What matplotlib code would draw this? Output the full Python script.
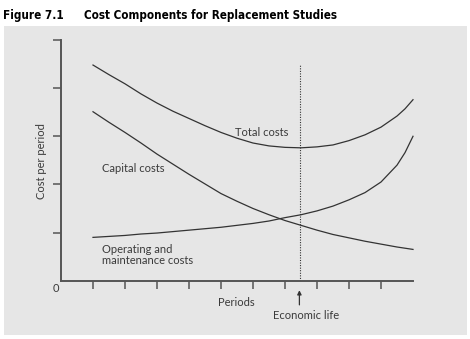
import matplotlib
matplotlib.use("Agg")
import matplotlib.pyplot as plt
from matplotlib.patches import Rectangle

# period axis shared by all three curves
periods = [1.0, 1.5, 2.0, 2.5, 3.0, 3.5, 4.0, 4.5, 5.0, 5.5, 6.0,
           6.5, 7.0, 7.5, 8.0, 8.5, 9.0, 9.5, 10.0, 10.5, 10.75, 11.0]

total_costs = [4.48, 4.28, 4.09, 3.88, 3.69, 3.52, 3.37, 3.22, 3.08, 2.96, 2.86,
               2.80, 2.77, 2.76, 2.78, 2.82, 2.91, 3.03, 3.19, 3.42, 3.57, 3.76]
capital_costs = [3.51, 3.29, 3.08, 2.86, 2.63, 2.42, 2.21, 2.01, 1.81, 1.65, 1.50,
                 1.37, 1.25, 1.15, 1.05, 0.96, 0.89, 0.82, 0.76, 0.70, 0.675, 0.65]
operating_costs = [0.90, 0.92, 0.94, 0.97, 0.99, 1.02, 1.05, 1.08, 1.11, 1.15, 1.19,
                   1.24, 1.31, 1.37, 1.45, 1.55, 1.68, 1.83, 2.05, 2.40, 2.66, 3.00]

economic_life = 7.47
x_ticks = list(range(1, 11))
y_ticks = [1, 2, 3, 4, 5]

ink = "#333333"
txt = "#3a3a3a"
plt.rcParams['font.family'] = ['Lato', 'DejaVu Sans']

fig = plt.figure(figsize=(4.7, 3.39), dpi=100)
fig.patch.set_facecolor("white")
bg = Rectangle((4 / 470, 4 / 339), 463 / 470, 309 / 339, transform=fig.transFigure,
               facecolor="#e6e6e6", edgecolor="none", zorder=-10)
fig.add_artist(bg)

title_font = dict(fontsize=8.4, fontweight="bold", family="DejaVu Sans",
                  fontstretch="condensed", va="center", ha="left")
fig.text(3 / 470, 1 - 15 / 339, "Figure 7.1", **title_font)
fig.text(84 / 470, 1 - 15 / 339, "Cost Components for Replacement Studies", **title_font)

ax = fig.add_axes([61 / 470, (339 - 280.7) / 339, 352 / 470, 240.7 / 339])
ax.set_facecolor("none")
ax.set_xlim(0, 11)
ax.set_ylim(0, 5)
for s in ["top", "right"]:
    ax.spines[s].set_visible(False)
for s in ["left", "bottom"]:
    ax.spines[s].set_color("#555555")
    ax.spines[s].set_linewidth(1.4)
ax.set_xticks(x_ticks)
ax.set_yticks(y_ticks)
ax.tick_params(direction="out", length=5.5, width=1.1, color="#555555",
               labelbottom=False, labelleft=False)

for costs in (total_costs, capital_costs, operating_costs):
    ax.plot(periods, costs, color=ink, lw=0.9, clip_on=False,
            solid_joinstyle="round")

ax.plot([economic_life, economic_life], [0, 4.49], color=ink, lw=0.8, ls=(0, (1, 1.3)))

ax.annotate("", xy=(economic_life - 0.02, -0.14), xytext=(economic_life - 0.02, -0.56),
            annotation_clip=False,
            arrowprops=dict(arrowstyle="-|>", color=ink, lw=0.9, mutation_scale=6))

fs = 8
ax.text(6.28, 3.08, "Total costs", fontsize=fs, color=txt, ha="center", va="center")
ax.text(1.27, 2.33, "Capital costs", fontsize=fs, color=txt, ha="left", va="center")
ax.text(1.27, 0.53, "Operating and\nmaintenance costs", fontsize=fs, color=txt,
        ha="left", va="center", linespacing=1.0)
ax.text(5.49, -0.46, "Periods", fontsize=fs, color=txt, ha="center", va="center",
        clip_on=False)
ax.text(7.65, -0.73, "Economic life", fontsize=fs, color=txt, ha="center", va="center",
        clip_on=False)
ax.text(-0.17, -0.17, "0", fontsize=fs, color=txt, ha="center", va="center",
        clip_on=False)
ax.text(-0.6, 2.49, "Cost per period", fontsize=fs, color=txt, ha="center", va="center",
        rotation=90, clip_on=False)

fig.savefig("out.png", dpi=100)
